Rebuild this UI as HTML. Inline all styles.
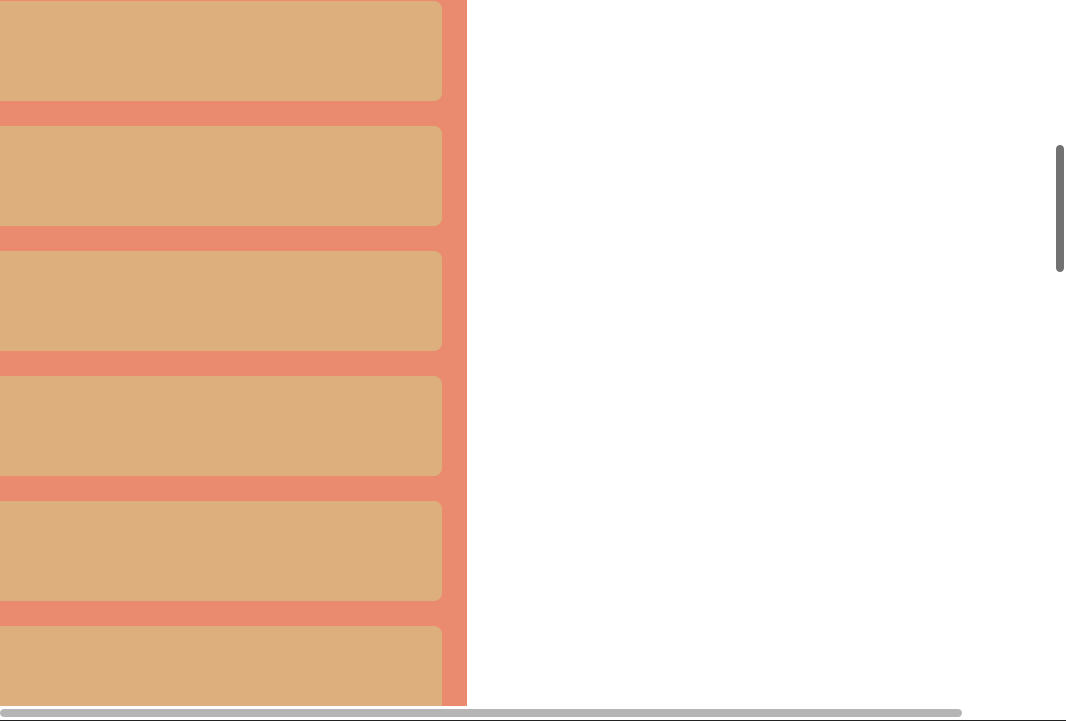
<!DOCTYPE html>
<html><head><meta charset="utf-8"><style>
html,body{margin:0;padding:0;width:1066px;height:721px;overflow:hidden;background:#fff;position:relative;font-family:"Liberation Sans",sans-serif}
#panel{position:absolute;left:0;top:0;width:467px;height:706px;background:#ea8a6e;overflow:hidden}
.card{position:absolute;left:-20px;width:462px;height:100px;background:#dcaf7d;border-radius:8px}
#hscroll{position:absolute;left:0;top:709px;width:962px;height:8px;background:#b5b5b5;border-radius:4px}
#vscroll{position:absolute;left:1056px;top:145px;width:8px;height:127px;background:#727272;border-radius:4px}
#bline{position:absolute;left:0;top:720px;width:1066px;height:1px;background:#222}
</style></head><body>
<div id="panel">
<div class="card" style="top:1px"></div>
<div class="card" style="top:126px"></div>
<div class="card" style="top:251px"></div>
<div class="card" style="top:376px"></div>
<div class="card" style="top:501px"></div>
<div class="card" style="top:626px"></div>
</div>
<div id="hscroll"></div>
<div id="vscroll"></div>
<div id="bline"></div>
</body></html>
